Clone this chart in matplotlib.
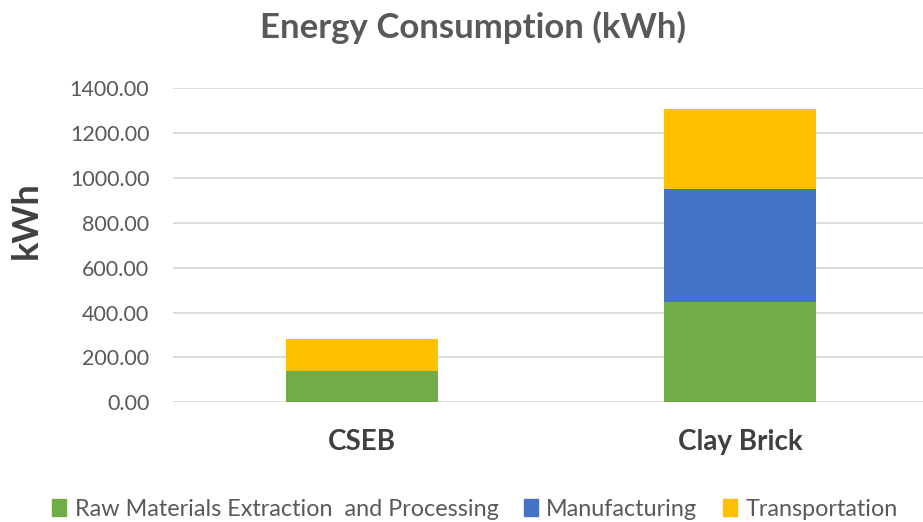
import numpy as np
import matplotlib.pyplot as plt
from matplotlib.patches import Patch

categories = ['CSEB', 'Clay Brick']
raw_materials = [140, 447]
manufacturing = [0, 505]
transportation = [141, 357]
series_names = ['Raw Materials Extraction  and Processing', 'Manufacturing', 'Transportation']
colors = ['#70ad47', '#4472c4', '#ffc000']

plt.rcParams['font.family'] = ['Lato', 'DejaVu Sans']

fig = plt.figure(figsize=(9.23, 5.22), dpi=100)
ax = fig.add_axes([173 / 923, 1 - 402.3 / 522, (929 - 173) / 923, 314 / 522])

x = np.arange(len(categories))
bottom = np.zeros(len(categories))
for vals, c in zip([raw_materials, manufacturing, transportation], colors):
    ax.bar(x, vals, width=0.4, bottom=bottom, color=c, zorder=3)
    bottom += np.array(vals)

ax.set_xlim(-0.5, 1.5)
ax.set_ylim(0, 1400)
ax.set_yticks(np.arange(0, 1401, 200))
ax.set_yticklabels([f'{v:.2f}' for v in np.arange(0, 1401, 200)])
ax.set_xticks(x)
ax.set_xticklabels(categories, fontsize=20, fontweight='bold', color='#404040')
ax.tick_params(axis='y', labelsize=15.5, labelcolor='#595959', length=0, pad=17)
ax.tick_params(axis='x', length=0, pad=19)
ax.grid(axis='y', color='#d9d9d9', linewidth=1.3, zorder=0)
for s in ax.spines.values():
    s.set_visible(False)

fig.text(10 / 923, 1 - 220 / 522, 'kWh', rotation=90, fontsize=26, fontweight='bold',
         color='#404040', ha='left', va='center')
fig.text(473 / 923, 1 - 27 / 522, 'Energy Consumption (kWh)', fontsize=25, fontweight='bold',
         color='#595959', ha='center', va='center')

handles = [Patch(color=c) for c in colors]
fig.legend(handles, series_names, loc='center', bbox_to_anchor=(475 / 923, 1 - 509 / 522),
           ncol=3, frameon=False, fontsize=16.8, handlelength=0.6, handleheight=0.7,
           handletextpad=0.35, columnspacing=1.1, labelcolor='#595959')

fig.savefig('out.png', dpi=100)
